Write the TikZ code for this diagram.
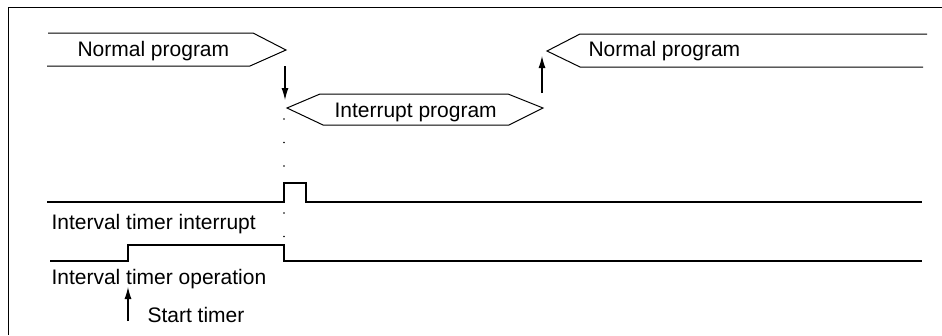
\documentclass[tikz,border=0pt]{standalone}
\usepackage{fontspec}
\setmainfont{Liberation Sans}
\usetikzlibrary{positioning,arrows.meta}

\begin{document}
\begin{tikzpicture}[x=1pt,y=-1pt,
    lbl/.style={anchor=base west, inner sep=0pt, font=\fontsize{21}{25}\selectfont},
    arr/.style={-{Latex[length=12pt,width=7pt]}, line width=1.1pt},
    wave/.style={line width=1.2pt},
    dotmark/.style={fill=black},
    line width=1pt, line join=miter]
  \useasboundingbox (0,0) rectangle (942,335);

  % frame, only top and left edges show
  \draw (8,335) -- (8,7) -- (942,7);

  % program flow
  \node[lbl] (norm1) at (77,56) {Normal program};
  \draw (48,33) -- (253,33) -- (286,50) coordinate (norm1tip) -- (250,66) -- (47,66);

  \node[lbl] (intr) at (334,117) {Interrupt program};
  \draw (320,94) -- (508,94) -- (543,108) coordinate (intrtip) -- (509,125) -- (323,125)
        -- (287,108) coordinate (intrtail) -- cycle;

  \node[lbl] (norm2) at (588,56) {Normal program};
  \draw (927,34) -- (580,34) -- (547,51) coordinate (norm2tail) -- (580,67) -- (923,67);

  \coordinate (dnfrom) at (285,66);
  \coordinate (dnto)   at (285,100);
  \draw[arr] (dnfrom) -- (dnto);
  \coordinate (upfrom) at (542,93);
  \coordinate (upto)   at (542,56);
  \draw[arr] (upfrom) -- (upto);

  % dotted guide down to the waveforms
  \foreach \y in {119,142.5,...,261}
    \fill[dotmark] (284,\y) circle (0.9);

  % interval timer interrupt
  \draw[wave] (47,202) -- (284,202) -- (284,183) -- (306,183) -- (306,202) -- (922,202);
  \node[lbl] (irqlbl) at (51,229) {Interval timer interrupt};

  % interval timer operation
  \draw[wave] (50,261) -- (128,261) -- (128,245) -- (284,245) -- (284,261) -- (922,261);
  \node[lbl] (oplbl) at (51,284) {Interval timer operation};

  % start
  \coordinate (stfrom) at (128,321);
  \coordinate (stto)   at (128,287);
  \draw[arr] (stfrom) -- (stto);
  \node[lbl] (stlbl) at (147,322) {Start timer};
\end{tikzpicture}
\end{document}
